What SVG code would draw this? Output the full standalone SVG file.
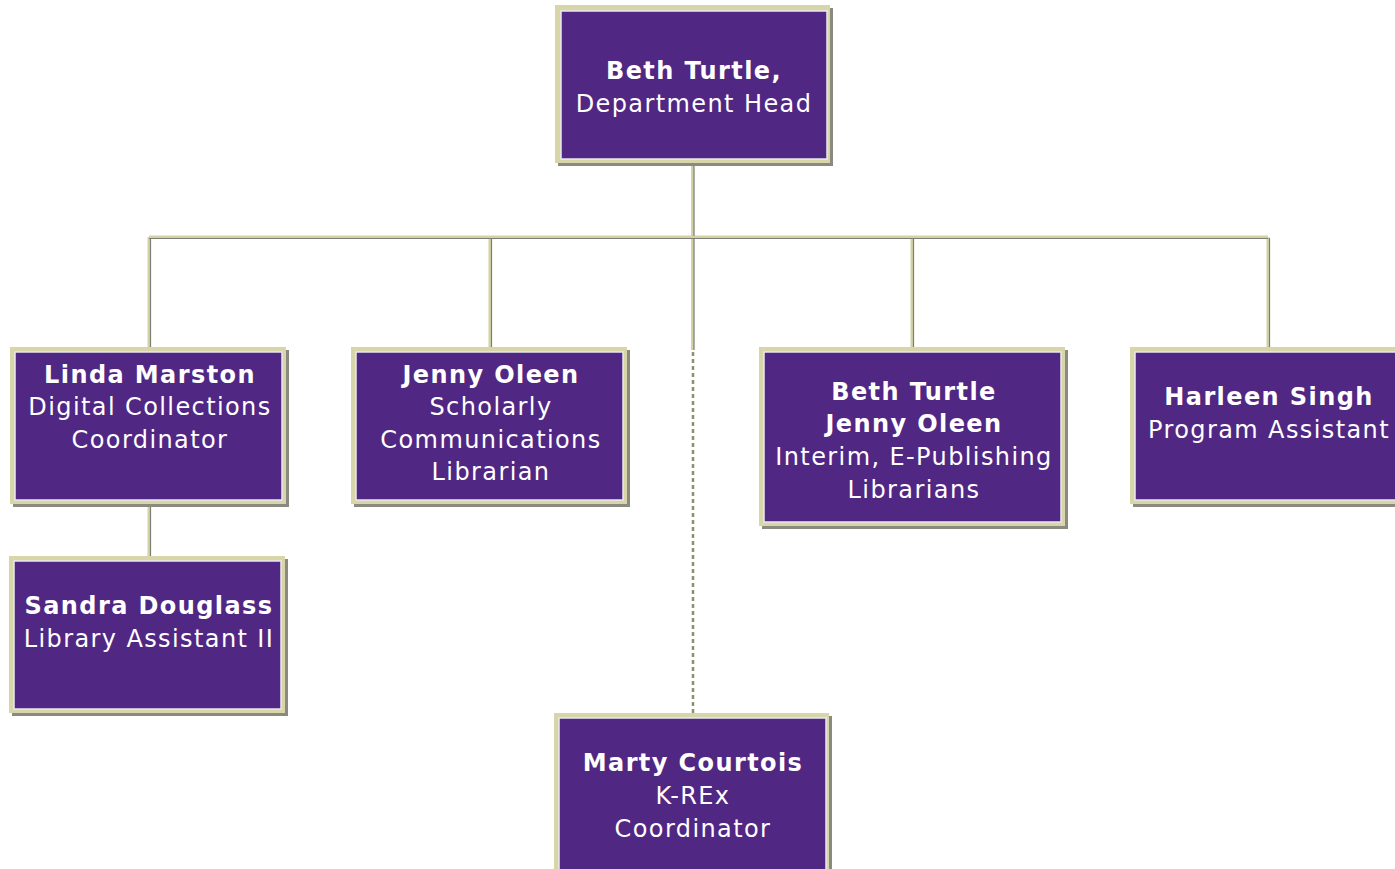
<svg xmlns="http://www.w3.org/2000/svg" width="1395" height="869" viewBox="0 0 1395 869">
<style>
.frame{fill:#d8d5a8;stroke:none}
.shadow{fill:#8a8a80}
.inner{fill:#512784;stroke:#e8e8ef;stroke-width:1.5}
.t{font-family:"DejaVu Sans",Verdana,sans-serif;font-size:24px;fill:#ffffff;text-anchor:middle;letter-spacing:1.4px}
.b{font-weight:bold}
.ln{stroke:#d4d2a4;stroke-width:3;fill:none}
.ls{stroke:#7d7d74;stroke-width:1.2;fill:none}
.dot{stroke:#8f8e72;stroke-width:2.5;stroke-dasharray:4 3;fill:none}
</style>
<rect width="1395" height="869" fill="#ffffff"/>
<g id="connectors">
<path class="ln" d="M692.5 165V237M149 237H1268M149 237V347M490 237V347M912 237V347M1268 237V347M692.5 237V350M149 506V556"/>
<path class="ls" d="M694 165V236M149 238.5H1268M150.5 238V347M491.5 238V347M913.5 238V347M1269.5 238V347M694 238V350M150.5 506V556"/>
<path class="dot" d="M693 352V713"/>
</g>
<g id="n-beth-head">
<rect class="shadow" x="558" y="8" width="275" height="158"/>
<rect class="frame" x="555" y="5" width="275" height="158"/>
<rect class="inner" x="561" y="11" width="266" height="148"/>
<text class="t b" x="694" y="79">Beth Turtle,</text>
<text class="t" x="694" y="112">Department Head</text>
</g>
<g id="n-linda">
<rect class="shadow" x="13" y="350" width="276" height="157"/>
<rect class="frame" x="10" y="347" width="276" height="157"/>
<rect class="inner" x="15" y="352" width="267" height="148"/>
<text class="t b" x="150" y="383">Linda Marston</text>
<text class="t" x="150" y="415">Digital Collections</text>
<text class="t" x="150" y="448">Coordinator</text>
</g>
<g id="n-jenny">
<rect class="shadow" x="354" y="350" width="276" height="157"/>
<rect class="frame" x="351" y="347" width="276" height="157"/>
<rect class="inner" x="356" y="352" width="267" height="148"/>
<text class="t b" x="491" y="383">Jenny Oleen</text>
<text class="t" x="491" y="415">Scholarly</text>
<text class="t" x="491" y="448">Communications</text>
<text class="t" x="491" y="480">Librarian</text>
</g>
<g id="n-interim">
<rect class="shadow" x="762" y="350" width="306" height="179"/>
<rect class="frame" x="759" y="347" width="306" height="179"/>
<rect class="inner" x="764" y="352" width="297" height="170"/>
<text class="t b" x="914" y="400">Beth Turtle</text>
<text class="t b" x="914" y="432">Jenny Oleen</text>
<text class="t" x="914" y="465">Interim, E-Publishing</text>
<text class="t" x="914" y="498">Librarians</text>
</g>
<g id="n-harleen">
<rect class="shadow" x="1133" y="350" width="266" height="157"/>
<rect class="frame" x="1130" y="347" width="266" height="157"/>
<rect class="inner" x="1135" y="352" width="266" height="148"/>
<text class="t b" x="1269" y="405">Harleen Singh</text>
<text class="t" x="1269" y="438">Program Assistant</text>
</g>
<g id="n-sandra">
<rect class="shadow" x="12" y="559" width="276" height="157"/>
<rect class="frame" x="9" y="556" width="276" height="157"/>
<rect class="inner" x="14" y="561" width="267" height="148"/>
<text class="t b" x="149" y="614">Sandra Douglass</text>
<text class="t" x="149" y="647">Library Assistant II</text>
</g>
<g id="n-marty">
<rect class="shadow" x="557" y="716" width="275" height="160"/>
<rect class="frame" x="554" y="713" width="275" height="160"/>
<rect class="inner" x="559" y="718" width="267" height="160"/>
<text class="t b" x="693" y="771">Marty Courtois</text>
<text class="t" x="693" y="804">K-REx</text>
<text class="t" x="693" y="837">Coordinator</text>
</g>
</svg>
